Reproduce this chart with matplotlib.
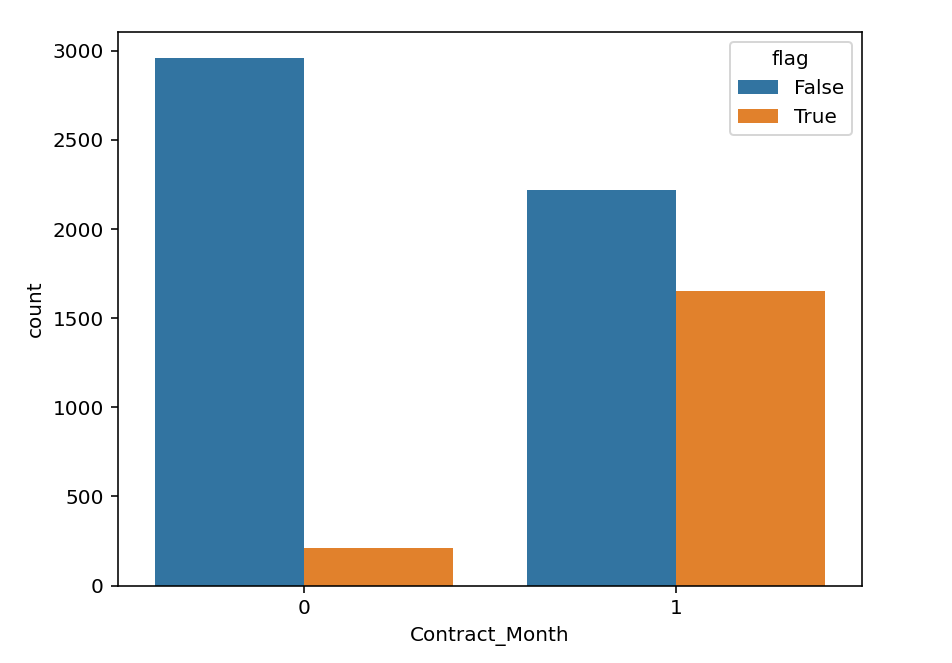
import matplotlib
matplotlib.use("Agg")
import matplotlib.pyplot as plt
import seaborn as sns
import pandas as pd

categories = ["0", "1"]
hue_levels = ["False", "True"]
counts_false = [2958, 2219]
counts_true = [209, 1655]

df = pd.DataFrame({
    "Contract_Month": categories * 2,
    "flag": [hue_levels[0]] * 2 + [hue_levels[1]] * 2,
    "count": counts_false + counts_true,
})

fig = plt.figure(figsize=(952 / 144, 663 / 144), dpi=144)
ax = fig.add_axes([118 / 952, 1 - 585.5 / 663, (862 - 118) / 952, (585.5 - 32) / 663])
sns.barplot(data=df, x="Contract_Month", y="count", hue="flag", ax=ax,
            saturation=0.75, order=categories, hue_order=hue_levels)
ax.set_xlabel("Contract_Month")
ax.set_ylabel("count")
ax.set_ylim(0, max(counts_false + counts_true) * 1.05)
ax.set_yticks([0, 500, 1000, 1500, 2000, 2500, 3000])
ax.legend(title="flag", loc="upper right")
fig.savefig("out.png", dpi=144)
